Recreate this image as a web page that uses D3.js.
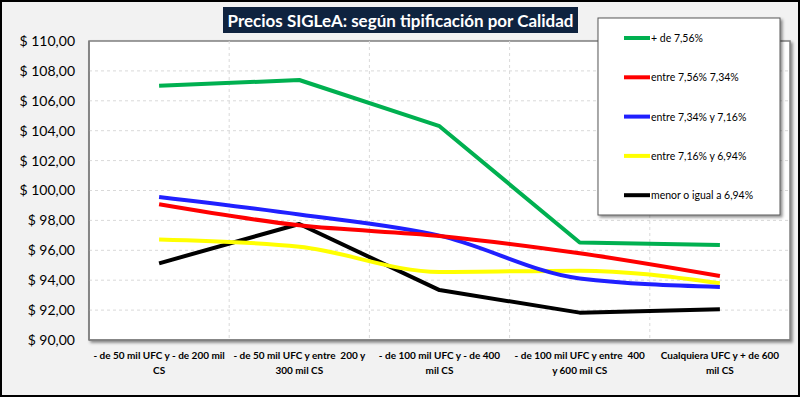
<!DOCTYPE html>
<html><head><meta charset="utf-8">
<script src="https://cdn.jsdelivr.net/npm/d3@7"></script>
<style>
html,body{margin:0;padding:0;background:#fff;}
svg{display:block;font-family:Lato, "Open Sans", sans-serif;}
</style></head>
<body>
<script>
const categories = [
  ["- de 50 mil UFC y - de 200 mil", "CS"],
  ["- de 50 mil UFC y entre  200 y", "300 mil CS"],
  ["- de 100 mil UFC y - de 400", "mil CS"],
  ["- de 100 mil UFC y entre  400", "y 600 mil CS"],
  ["Cualquiera UFC y + de 600", "mil CS"]
];
const seriesNames = ["+ de 7,56%", "entre 7,56% 7,34%", "entre 7,34% y 7,16%", "entre 7,16% y 6,94%", "menor o igual a 6,94%"];
const seriesColors = ["#00b050", "#ff0000", "#2020ff", "#ffff00", "#000000"];
const green  = [107.00, 107.39, 104.30, 96.52, 96.36];
const red    = [99.08, 97.67, 96.96, 95.80, 94.28];
const blue   = [99.57, 98.40, 96.98, 94.12, 93.55];
const yellow = [96.73, 96.24, 94.55, 94.64, 93.79];
const black  = [95.13, 97.76, 93.34, 91.83, 92.05];
const yTicks = [90, 92, 94, 96, 98, 100, 102, 104, 106, 108, 110];
const title = "Precios SIGLeA: según tipificación por Calidad";

const W = 800, H = 397;
const svg = d3.select("body").append("svg").attr("width", W).attr("height", H);
const defs = svg.append("defs");
const f = defs.append("filter").attr("id","sh").attr("x","-10%").attr("y","-10%").attr("width","130%").attr("height","130%");
f.append("feDropShadow").attr("dx",2).attr("dy",2).attr("stdDeviation",1.5).attr("flood-color","#000").attr("flood-opacity",0.45);

svg.append("rect").attr("x",1).attr("y",1).attr("width",W-2).attr("height",H-2)
  .attr("fill","#f2f2f2").attr("stroke","#000").attr("stroke-width",2);

const m = {l: 89, r: 790, t: 41, b: 340};
const x = d3.scaleBand().domain(d3.range(categories.length)).range([m.l, m.r]);
const y = d3.scaleLinear().domain([90, 110]).range([m.b, m.t]);

// plot area
svg.append("rect").attr("x", m.l).attr("y", m.t).attr("width", m.r - m.l).attr("height", m.b - m.t)
  .attr("fill","#fff").attr("stroke","#7f7f7f").attr("stroke-width",1.5).attr("filter","url(#sh)");

// gridlines
const g = svg.append("g");
g.selectAll("line.h").data(yTicks.filter(d => d > 90 && d < 110)).join("line")
  .attr("x1", m.l).attr("x2", m.r).attr("y1", d => y(d)).attr("y2", d => y(d))
  .attr("stroke","#d9d9d9").attr("stroke-dasharray","3,3");
g.selectAll("line.v").data(d3.range(1, categories.length)).join("line")
  .attr("y1", m.t).attr("y2", m.b).attr("x1", d => x(d)).attr("x2", d => x(d))
  .attr("stroke","#d9d9d9").attr("stroke-dasharray","3,3");

svg.append("line").attr("x1", m.l).attr("x2", m.l).attr("y1", m.t).attr("y2", m.b).attr("stroke","#7f7f7f").attr("stroke-width",1.5);
svg.append("line").attr("x1", m.l).attr("x2", m.r).attr("y1", m.b).attr("y2", m.b).attr("stroke","#7f7f7f").attr("stroke-width",1.5);

// y axis labels
const yAxis = d3.axisLeft(y).tickValues(yTicks).tickSize(0).tickPadding(14)
  .tickFormat(d => "$ " + d3.format(".2f")(d).replace(".", ","));
const ya = svg.append("g").attr("transform", `translate(${m.l},0)`).call(yAxis);
ya.select(".domain").remove();
ya.selectAll("text").attr("font-size", 14).attr("fill","#000").attr("font-family","Lato, sans-serif");

// x labels (common font size fitted to the band)
const xl = svg.append("g");
const xTexts = [];
categories.forEach((c, i) => {
  c.forEach((ln, j) => {
    const t = xl.append("text").attr("x", x(i) + x.bandwidth()/2).attr("y", 359 + j * 14.5)
      .attr("text-anchor","middle").attr("font-size", 13).attr("font-weight","bold")
      .attr("font-family", "'Liberation Sans Narrow', Lato, sans-serif")
      .style("white-space","pre").attr("fill","#000").text(ln);
    xTexts.push(t);
  });
});
const maxW = d3.max(xTexts, t => t.node().getComputedTextLength());
const xfs = Math.min(13, 13 * 132 / maxW);
xTexts.forEach(t => t.attr("font-size", xfs));

// lines
const allSeries = [green, red, blue, yellow, black];
const curves = [d3.curveLinear, d3.curveMonotoneX, d3.curveMonotoneX, d3.curveMonotoneX, d3.curveLinear];
const drawOrder = [4, 3, 2, 1, 0];
drawOrder.forEach(si => {
  const line = d3.line().x((d, i) => x(i) + x.bandwidth()/2).y(d => y(d)).curve(curves[si]);
  svg.append("path").datum(allSeries[si]).attr("d", line)
    .attr("fill","none").attr("stroke", seriesColors[si]).attr("stroke-width", 4)
    .attr("stroke-linejoin","round").attr("stroke-linecap","butt");
});

// title
const tb = svg.append("g");
tb.append("rect").attr("x", 223).attr("y", 7).attr("width", 355).attr("height", 26).attr("fill","#0f233f");
const tt = tb.append("text").attr("x", 400.5).attr("y", 26.5).attr("text-anchor","middle")
  .attr("font-size", 17).attr("font-weight","bold").attr("fill","#fff").text(title);
const tw = tt.node().getComputedTextLength();
if (tw > 346) tt.attr("font-size", 17 * 346 / tw);

// legend
const lg = svg.append("g");
lg.append("rect").attr("x", 598).attr("y", 18).attr("width", 182).attr("height", 197)
  .attr("fill","#fff").attr("stroke","#595959").attr("stroke-width",1).attr("filter","url(#sh)");
seriesNames.forEach((n, i) => {
  const yy = 38 + i * 39.3;
  lg.append("line").attr("x1", 624).attr("x2", 650).attr("y1", yy).attr("y2", yy)
    .attr("stroke", seriesColors[i]).attr("stroke-width", 4);
  lg.append("text").attr("x", 651).attr("y", yy + 4).attr("font-size", 10.5).attr("fill","#000").text(n);
});
</script>
</body></html>
